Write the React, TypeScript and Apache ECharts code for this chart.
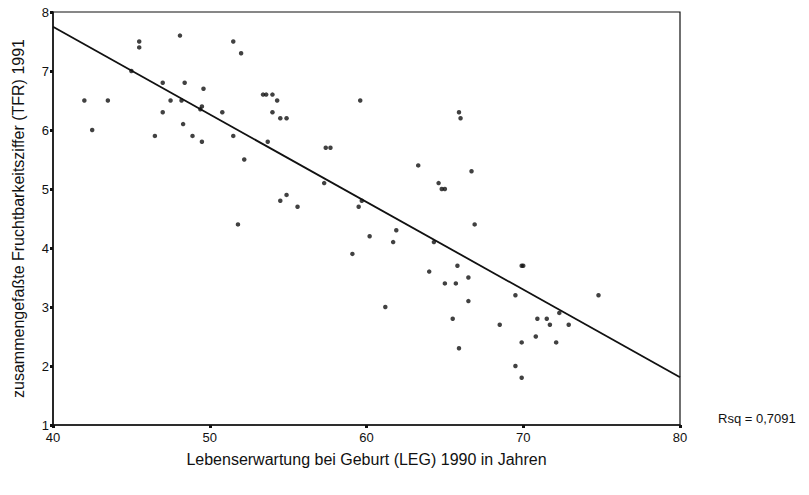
import React, { useEffect, useRef } from "react";
import * as echarts from "echarts";

const xValues = [
  42.0, 42.5, 43.5, 45.0, 45.5, 45.5, 46.5, 47.0, 47.0, 47.5,
  48.1, 48.2, 48.3, 48.4, 48.9, 49.5, 49.4, 49.5, 49.6, 50.8,
  51.5, 51.5, 52.0, 52.2, 53.4, 53.6, 54.0, 54.3, 54.0, 53.7,
  54.5, 54.9, 57.4, 57.7, 57.3, 54.9, 59.6, 65.9, 66.0, 63.3,
  66.7, 64.6, 64.8, 65.0, 51.8, 54.5, 55.6, 59.5, 59.7, 60.2,
  59.1, 61.9, 61.7, 61.2, 64.3, 66.9, 64.0, 65.8, 65.0, 65.7,
  66.5, 66.5, 65.5, 65.9, 68.5, 69.9, 70.0, 69.5, 74.8, 70.9,
  71.5, 71.7, 72.3, 72.9, 70.8, 69.9, 72.1, 69.5, 69.9
];
const yValues = [
  6.5, 6.0, 6.5, 7.0, 7.5, 7.4, 5.9, 6.8, 6.3, 6.5,
  7.6, 6.5, 6.1, 6.8, 5.9, 6.4, 6.35, 5.8, 6.7, 6.3,
  7.5, 5.9, 7.3, 5.5, 6.6, 6.6, 6.6, 6.5, 6.3, 5.8,
  6.2, 6.2, 5.7, 5.7, 5.1, 4.9, 6.5, 6.3, 6.2, 5.4,
  5.3, 5.1, 5.0, 5.0, 4.4, 4.8, 4.7, 4.7, 4.8, 4.2,
  3.9, 4.3, 4.1, 3.0, 4.1, 4.4, 3.6, 3.7, 3.4, 3.4,
  3.5, 3.1, 2.8, 2.3, 2.7, 3.7, 3.7, 3.2, 3.2, 2.8,
  2.8, 2.7, 2.9, 2.7, 2.5, 2.4, 2.4, 2.0, 1.8
];
const fitX = [40, 80];
const fitY = [7.75, 1.81];
const xTicks = [40, 50, 60, 70, 80];
const yTicks = [1, 2, 3, 4, 5, 6, 7, 8];

export default function App() {
  const ref = useRef<HTMLDivElement>(null);
  useEffect(() => {
    if (!ref.current) return;
    const chart = echarts.init(ref.current, null, { renderer: "svg" });
    const font = "Liberation Sans, Arial, sans-serif";
    chart.setOption({
      animation: false,
      backgroundColor: "#fff",
      grid: {
        left: 53, right: 129, top: 12, bottom: 70,
        show: true, borderColor: "#111", borderWidth: 1.2,
      },
      xAxis: {
        type: "value",
        min: xTicks[0], max: xTicks[xTicks.length - 1], interval: 10,
        name: "Lebenserwartung bei Geburt (LEG) 1990 in Jahren",
        nameLocation: "middle", nameGap: 26,
        nameTextStyle: { fontFamily: font, fontSize: 16, color: "#111" },
        axisLine: { show: true, lineStyle: { color: "#111", width: 1.5 } },
        axisTick: { show: true, length: 3, lineStyle: { color: "#111", width: 3 } },
        axisLabel: { fontFamily: font, fontSize: 13, color: "#111", margin: 6 },
        splitLine: { show: false },
      },
      yAxis: {
        type: "value",
        min: yTicks[0], max: yTicks[yTicks.length - 1], interval: 1,
        name: "zusammengefaßte Fruchtbarkeitsziffer (TFR) 1991",
        nameLocation: "middle", nameGap: 27,
        nameTextStyle: { fontFamily: font, fontSize: 16, color: "#111" },
        axisLine: { show: true, lineStyle: { color: "#111", width: 1.5 } },
        axisTick: { show: true, length: 3, lineStyle: { color: "#111", width: 3 } },
        axisLabel: { fontFamily: font, fontSize: 13, color: "#111", margin: 4 },
        splitLine: { show: false },
      },
      graphic: [
        {
          type: "text", left: 718, top: 412,
          style: { text: "Rsq = 0,7091", fontFamily: font, fontSize: 13, fill: "#111" },
        },
      ],
      series: [
        {
          type: "scatter",
          data: xValues.map((x, i) => [x, yValues[i]]),
          symbol: "circle", symbolSize: 4.5,
          itemStyle: { color: "#111" },
        },
        {
          type: "line",
          data: fitX.map((x, i) => [x, fitY[i]]),
          symbol: "none",
          lineStyle: { color: "#111", width: 1.8 },
        },
      ],
    });
    return () => chart.dispose();
  }, []);
  return <div ref={ref} style={{ width: 809, height: 495, position: "absolute", left: 0, top: 0 }} />;
}
